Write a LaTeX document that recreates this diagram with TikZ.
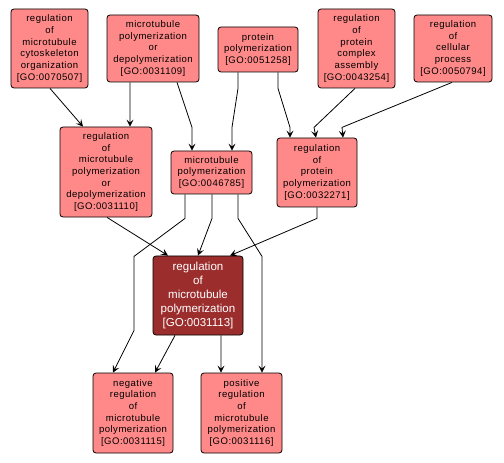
\documentclass[tikz,border=0pt]{standalone}
\usepackage{fontspec}
\setmainfont{Liberation Sans}
\newfontfamily\gofont[LetterSpace=5]{Liberation Sans}
\usetikzlibrary{arrows.meta}
\definecolor{lightred}{RGB}{255,137,137}
\definecolor{darkred}{RGB}{155,45,45}
\tikzset{
  term/.style={draw=black, fill=lightred, rounded corners=3bp, line width=0.8bp, align=center,
    inner sep=0pt, font=\gofont\fontsize{9.6}{11.7}\selectfont, text=black},
  mainterm/.style={term, fill=darkred, text=white, font=\fontsize{11.6}{14}\selectfont},
  edge/.style={draw=black, line width=0.8bp, -{Stealth[length=7bp,width=7bp,inset=3bp]}}
}
\begin{document}
\begin{tikzpicture}[x=1bp,y=-1bp]
\useasboundingbox (0,0) rectangle (504,463);
\node[term, minimum width=77bp, minimum height=79bp] (A) at (49.5,48.5) {regulation\\of\\microtubule\\cytoskeleton\\organization\\{}[GO:0070507]};
\node[term, minimum width=92bp, minimum height=67bp] (B) at (153,48.5) {microtubule\\polymerization\\or\\depolymerization\\{}[GO:0031109]};
\node[term, minimum width=80bp, minimum height=45bp] (C) at (258,49.5) {protein\\polymerization\\{}[GO:0051258]};
\node[term, minimum width=77bp, minimum height=79bp] (D) at (356.5,48.5) {regulation\\of\\protein\\complex\\assembly\\{}[GO:0043254]};
\node[term, minimum width=78bp, minimum height=67bp] (E) at (453,48.5) {regulation\\of\\cellular\\process\\{}[GO:0050794]};
\node[term, minimum width=92bp, minimum height=90bp] (F) at (106,172) {regulation\\of\\microtubule\\polymerization\\or\\depolymerization\\{}[GO:0031110]};
\node[term, minimum width=81bp, minimum height=43bp] (G) at (211.5,172.5) {microtubule\\polymerization\\{}[GO:0046785]};
\node[term, minimum width=80bp, minimum height=69bp] (H) at (317,172.5) {regulation\\of\\protein\\polymerization\\{}[GO:0032271]};
\node[mainterm, minimum width=90bp, minimum height=79bp] (I) at (198,295.5) {regulation\\of\\microtubule\\polymerization\\{}[GO:0031113]};
\node[term, minimum width=80bp, minimum height=80bp] (J) at (133,413) {negative\\regulation\\of\\microtubule\\polymerization\\{}[GO:0031115]};
\node[term, minimum width=81bp, minimum height=80bp] (K) at (241.5,413) {positive\\regulation\\of\\microtubule\\polymerization\\{}[GO:0031116]};
% edges
\draw[edge] ([xshift=0.5bp]A.south) -- ([xshift=-23bp]F.north);
\draw[edge] ([xshift=-23bp]B.south) -- ([xshift=24bp]F.north);
\draw[edge] ([xshift=24bp]B.south) -- ++(15,45) -- ([xshift=-19.5bp]G.north);
\draw[edge] ([xshift=-20bp]C.south) -- ++(0,16) -- ++(-6,39) -- ([xshift=20.5bp]G.north);
\draw[edge] ([xshift=20bp]C.south) -- ++(0,16) -- ++(12,39) -- ([xshift=-27bp]H.north);
\draw[edge] ([xshift=-1.5bp]D.south) -- ++(-41,39) -- ([xshift=-1bp]H.north);
\draw[edge] ([xshift=-1bp]E.south) -- ++(-110,45) -- ([xshift=26bp]H.north);
\draw[edge] ([xshift=1bp]F.south) -- ([xshift=-30bp]I.north);
\draw[edge] ([xshift=0.5bp]G.south) -- ++(0,24) -- ([xshift=0bp]I.north);
\draw[edge] (H.south) -- ++(0,11) -- ([xshift=32bp]I.north);
\draw[edge] ([xshift=-26.5bp]G.south) -- ++(0,24) -- ++(-51,38) -- ++(0,74) -- ([xshift=-20bp]J.north);
\draw[edge] ([xshift=26.5bp]G.south) -- ++(0,24) -- ++(24,38) -- ([xshift=20.5bp]K.north);
\draw[edge] ([xshift=-23bp]I.south) -- ([xshift=22bp]J.north);
\draw[edge] ([xshift=23bp]I.south) -- ([xshift=-20.5bp]K.north);
\end{tikzpicture}
\end{document}
